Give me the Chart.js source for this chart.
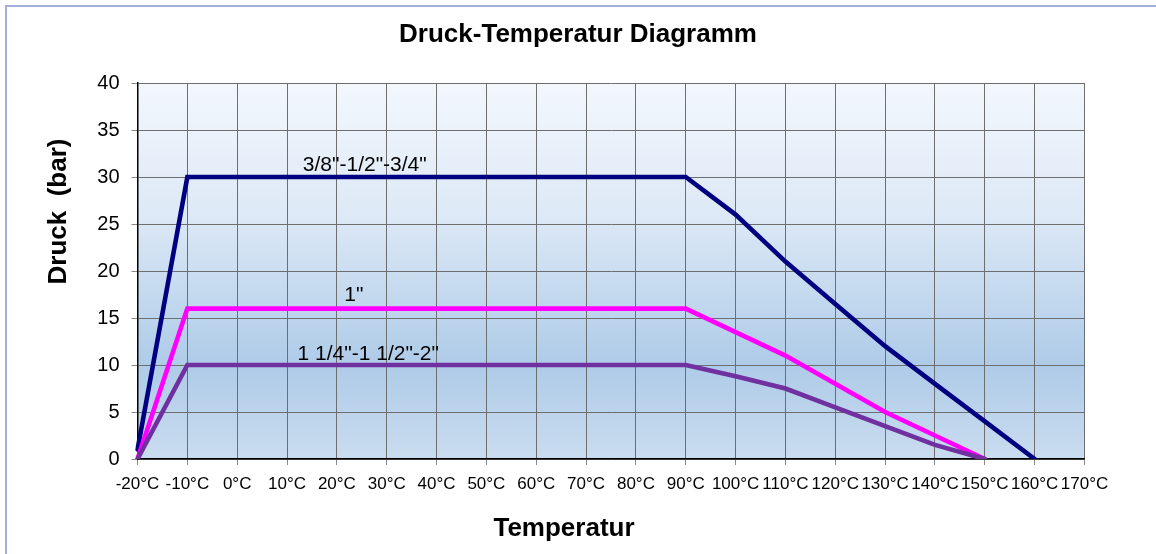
<!DOCTYPE html>
<html><head><meta charset="utf-8">
<script src="https://cdn.jsdelivr.net/npm/chart.js@4/dist/chart.umd.min.js"></script>
<style>
html,body{margin:0;padding:0;background:#fff;overflow:hidden;}
#frame{position:absolute;left:5px;top:5px;width:1400px;height:800px;border:2px solid #a3afda;box-sizing:border-box;}
#wrap{position:absolute;left:0;top:0;width:1156px;height:554px;}
</style></head><body>
<div id="frame"></div>
<div id="wrap"><canvas id="c"></canvas></div>
<script>
// ---- data ----
const categories = ['-20°C','-10°C','0°C','10°C','20°C','30°C','40°C','50°C','60°C','70°C','80°C','90°C','100°C','110°C','120°C','130°C','140°C','150°C','160°C','170°C'];
const seriesSmallLabel = '3/8"-1/2"-3/4"';
const seriesSmall = [1,30,30,30,30,30,30,30,30,30,30,30,26,21,16.5,12,8,4,0,null];
const seriesOneInchLabel = '1"';
const seriesOneInch = [0,16,16,16,16,16,16,16,16,16,16,16,13.5,11,8,5,2.5,0,null,null];
const seriesLargeLabel = '1 1/4"-1 1/2"-2"';
const seriesLarge = [0,10,10,10,10,10,10,10,10,10,10,10,8.8,7.5,5.5,3.5,1.5,0,null,null];
const yMin = 0, yMax = 40, yStep = 5;
const chartTitle = 'Druck-Temperatur Diagramm';
const xTitle = 'Temperatur';
const yTitle = 'Druck  (bar)';

// ---- styling / layout ----
const FONT = '"Liberation Sans", Arial, Helvetica, sans-serif';
const lineLabelPlacement = [
  {text: seriesSmallLabel, idx: 4.56, val: 31.3},
  {text: seriesOneInchLabel, idx: 4.34, val: 17.4},
  {text: seriesLargeLabel, idx: 4.63, val: 11.2}
];
const axisTitlePlacement = {x: {cx: 564, cy: 529}, y: {cx: 59, cy: 211.5}};

const plotBg = {
  id: 'plotBg',
  beforeDraw(chart) {
    const {ctx, chartArea: a} = chart;
    const g = ctx.createLinearGradient(0, a.top, 0, a.bottom);
    g.addColorStop(0, '#f3f7fd');
    g.addColorStop(0.35, '#dde9f6');
    g.addColorStop(0.75, '#aecbe8');
    g.addColorStop(1, '#cadcef');
    ctx.save();
    ctx.fillStyle = g;
    ctx.fillRect(a.left, a.top, a.right - a.left, a.bottom - a.top);
    ctx.restore();
  }
};

const textLayer = {
  id: 'textLayer',
  afterDatasetsDraw(chart) {
    const {ctx} = chart;
    const xs = chart.scales.x, ys = chart.scales.y;
    ctx.save();
    ctx.fillStyle = '#000';
    ctx.textAlign = 'center';
    ctx.textBaseline = 'middle';
    ctx.font = '21px ' + FONT;
    lineLabelPlacement.forEach(l => {
      ctx.fillText(l.text, xs.getPixelForValue(l.idx), ys.getPixelForValue(l.val));
    });
    ctx.font = 'bold 26px ' + FONT;
    ctx.fillText(xTitle, axisTitlePlacement.x.cx, axisTitlePlacement.x.cy);
    ctx.translate(axisTitlePlacement.y.cx, axisTitlePlacement.y.cy);
    ctx.rotate(-Math.PI / 2);
    ctx.fillText(yTitle, 0, 0);
    ctx.restore();
  }
};

const lineStyle = {fill: false, tension: 0, pointRadius: 0, pointHoverRadius: 0, borderWidth: 4.6, borderCapStyle: 'round', borderJoinStyle: 'miter', spanGaps: false};

new Chart(document.getElementById('c'), {
  type: 'line',
  data: {
    labels: categories,
    datasets: [
      Object.assign({label: seriesSmallLabel, data: seriesSmall, borderColor: '#000080', backgroundColor: '#000080', order: 2}, lineStyle),
      Object.assign({label: seriesOneInchLabel, data: seriesOneInch, borderColor: '#ff00ff', backgroundColor: '#ff00ff', order: 1}, lineStyle),
      Object.assign({label: seriesLargeLabel, data: seriesLarge, borderColor: '#7030a0', backgroundColor: '#7030a0', order: 0}, lineStyle)
    ]
  },
  options: {
    responsive: true,
    maintainAspectRatio: false,
    animation: false,
    layout: {padding: 0},
    plugins: {
      legend: {display: false},
      tooltip: {enabled: false},
      title: {display: true, text: chartTitle, color: '#000', font: {family: FONT, size: 26, weight: 'bold'}, padding: {top: 19.5, bottom: 32.3}}
    },
    scales: {
      x: {
        type: 'category',
        offset: false,
        grid: {color: '#6e6e6e', lineWidth: 1, offset: false, drawTicks: true, tickLength: 6, tickColor: '#8a8a8a'},
        border: {color: '#000', width: 1.5},
        ticks: {color: '#000', autoSkip: false, maxRotation: 0, minRotation: 0, padding: 9, font: {family: FONT, size: 17}},
        afterFit(s) { s.height = 95; }
      },
      y: {
        min: yMin, max: yMax,
        grid: {color: '#6e6e6e', lineWidth: 1, drawTicks: true, tickLength: 6, tickColor: '#8a8a8a'},
        border: {color: '#000', width: 1.5},
        ticks: {stepSize: yStep, color: '#000', padding: 12, font: {family: FONT, size: 20}},
        afterFit(s) { s.width = 137.5; }
      },
      yRight: {
        position: 'right',
        min: yMin, max: yMax,
        grid: {display: false, drawOnChartArea: false, drawTicks: false},
        border: {display: false},
        ticks: {display: false},
        afterFit(s) { s.width = 71.5; }
      }
    }
  },
  plugins: [plotBg, textLayer]
});
</script>
</body></html>
